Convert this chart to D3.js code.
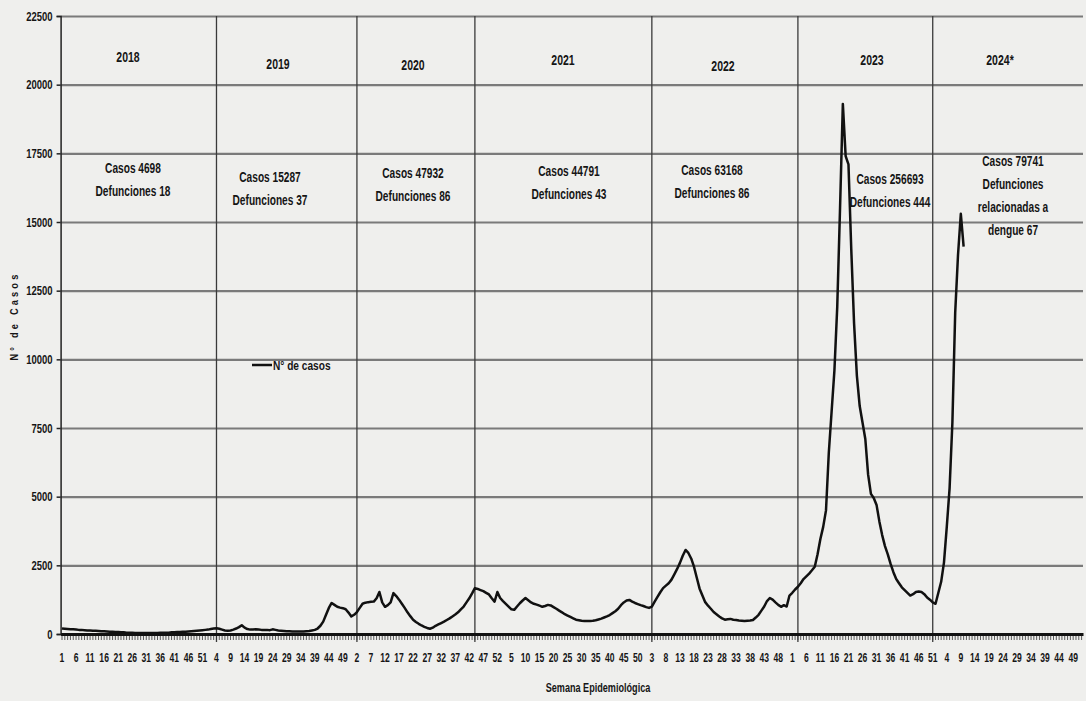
<!DOCTYPE html>
<html>
<head>
<meta charset="utf-8">
<script src="https://cdn.jsdelivr.net/npm/d3@7/dist/d3.min.js"></script>
<style>
  body { margin: 0; background: #efefed; }
  text { font-family: "Liberation Sans", Arial, sans-serif; font-weight: bold; fill: #151515; }
</style>
</head>
<body>
<div id="chart"></div>
<script>
// weekly cases per epidemiological year
const years = ["2018", "2019", "2020", "2021", "2022", "2023", "2024*"];
const weeksInYear = 52;

const cases2018 = [200,190,180,170,170,160,150,150,140,130, 130,120,120,110,100,100,90,80,80,70,
  70,60,60,50,50,50,40,40,40,40, 40,40,40,40,40,50,50,50,50,60,
  60,70,70,80,80,90,100,110,120,130,140,150];
const cases2019 = [160,180,200,210,190,160,130,120,130,160, 200,250,320,230,180,160,160,170,160,150,
  150,150,140,170,150,130,120,110,100,100, 90,90,90,90,90,100,110,130,
  150,200,300,450,700,950,1130,1060,990,960,940,900,780,640];
const cases2020 = [700,800,950,1100,1140,1160,1170,1180,1300,1530, 1150,990,1050,1150,1490,1380,1250,1100,950,790,
  650,520,440,370,310,260,220,190,230,300, 350,400,450,510,570,640,710,790,900,1000,
  1150,1300,1480,1670,1640,1600,1560,1500,1440,1300,1180,1530];
const cases2021 = [1310,1200,1100,1000,900,880,1000,1120,1220,1310, 1230,1150,1100,1070,1030,990,1020,1060,1040,980,
  920,850,790,720,670,620,570,520,500,480, 470,470,470,480,500,530,560,600,640,690,
  760,830,920,1050,1150,1220,1240,1180,1130,1090,1050,1020];
const cases2022 = [980,950,1000,1180,1350,1520,1670,1760,1850,1980, 2170,2370,2590,2850,3060,2950,2750,2450,2050,1650,
  1400,1160,1030,920,800,720,640,570,520,540, 550,520,510,490,480,470,480,490,510,600,
  700,850,1000,1200,1310,1250,1150,1060,990,1050,1000,1400];
const cases2023 = [1500,1620,1720,1850,2000,2100,2200,2320,2450,2900, 3460,3900,4500,6600,8100,9600,11900,15500,19300,17400,
  17100,14000,11300,9400,8300,7700,7100,5800,5100,4950, 4700,4100,3600,3200,2900,2550,2250,2000,1850,1700,
  1600,1500,1400,1450,1530,1550,1530,1450,1330,1250,1150,1100];
const cases2024 = [1500,1900,2600,3900,5300,7700,11700,13800,15300,14100];
const seriesByYear = [cases2018, cases2019, cases2020, cases2021, cases2022, cases2023, cases2024];

// yearly totals shown in the boxes
const totalCases = [4698, 15287, 47932, 44791, 63168, 256693, 79741];
const totalDeaths = [18, 37, 86, 43, 86, 444, 67];

// where the year separators were drawn (year index, week)
const dividers = [[1, 4], [2, 2], [2, 44], [4, 3], [5, 3], [5, 51]];

const yTicks = d3.range(0, 22501, 2500);

const width = 1086, height = 701;
const margin = { top: 16, right: 3, bottom: 67, left: 60.6 };
// the print uses a tall, very narrow bold face
const squeeze = s => `scale(${s},1)`;

// build categories: every week of every year on one axis
const categories = [];
years.forEach((yr, yi) => {
  for (let w = 1; w <= weeksInYear; w++) categories.push({ key: yi + "-" + w, week: w, year: yi });
});
const points = [];
seriesByYear.forEach((vals, yi) => vals.forEach((v, i) => points.push({ key: yi + "-" + (i + 1), value: v })));

const x = d3.scaleBand()
  .domain(categories.map(d => d.key))
  .range([margin.left, width - margin.right])
  .paddingInner(0).paddingOuter(0);
const cx = k => x(k) + x.bandwidth() / 2;

const y = d3.scaleLinear()
  .domain([0, 22500])
  .range([height - margin.bottom, margin.top]);

const svg = d3.select("#chart").append("svg")
  .attr("width", width)
  .attr("height", height);

// horizontal gridlines
svg.append("g")
  .attr("transform", `translate(${margin.left},0)`)
  .call(d3.axisLeft(y).tickValues(yTicks).tickSize(-(width - margin.left - margin.right)).tickFormat(""))
  .call(g => g.select(".domain").remove())
  .call(g => g.selectAll("line").attr("stroke", "#7a7a7a").attr("stroke-width", 2.2));

// y axis
svg.append("g")
  .attr("transform", `translate(${margin.left},0)`)
  .call(d3.axisLeft(y).tickValues(yTicks).tickSize(4).tickPadding(6.5).tickFormat(d3.format("d")))
  .call(g => g.select(".domain").attr("stroke", "#222").attr("stroke-width", 1.5))
  .call(g => g.selectAll("line").attr("stroke", "#222").attr("stroke-width", 1.5))
  .call(g => g.selectAll("text").attr("font-size", 12.5).attr("transform", squeeze(0.76)).style("font-family", null));

// year separators
svg.append("g").selectAll("line")
  .data(dividers)
  .join("line")
  .attr("x1", d => cx(d[0] + "-" + d[1]))
  .attr("x2", d => cx(d[0] + "-" + d[1]))
  .attr("y1", y(22500))
  .attr("y2", y(0) + 8)
  .attr("stroke", "#3a3a3a")
  .attr("stroke-width", 1.3);

// x axis: a tick on every week, label on every fifth
const every5 = categories.filter((d, i) => i % 5 === 0).map(d => d.key);
const weekOf = new Map(categories.map(d => [d.key, d.week]));
svg.append("g")
  .attr("transform", `translate(0,${y(0)})`)
  .call(d3.axisBottom(x).tickSize(6).tickFormat(""))
  .call(g => g.select(".domain").remove())
  .call(g => g.selectAll("line").attr("stroke", "#333").attr("stroke-width", 0.8));
svg.append("g")
  .attr("transform", `translate(0,${y(0)})`)
  .call(d3.axisBottom(x).tickValues(every5).tickSize(0).tickPadding(28).tickFormat(k => weekOf.get(k)))
  .call(g => g.select(".domain").attr("stroke", "#111").attr("stroke-width", 3))
  .call(g => g.selectAll("text").attr("font-size", 13).attr("dy", "0").attr("transform", squeeze(0.66)).style("font-family", null));

// the weekly case line
const line = d3.line()
  .x(d => cx(d.key))
  .y(d => y(d.value));
svg.append("path")
  .datum(points)
  .attr("fill", "none")
  .attr("stroke", "#111")
  .attr("stroke-width", 2.5)
  .attr("stroke-linejoin", "round")
  .attr("d", line);

// annotation layout (pixels)
const yearLabelPos = [[128, 62], [278, 69], [413, 70], [563, 65], [723, 71], [872, 65], [1000, 65]];
const boxPos = [[133, 173], [270, 182], [413, 178], [569, 176], [712, 175], [890, 184], [1013, 166]];

svg.append("g").selectAll("text")
  .data(years)
  .join("text")
  .attr("transform", (d, i) => `translate(${yearLabelPos[i][0]},${yearLabelPos[i][1]}) ${squeeze(0.7)}`)
  .attr("text-anchor", "middle")
  .attr("font-size", 15)
  .text(d => d);

const boxes = svg.append("g").selectAll("text")
  .data(years)
  .join("text")
  .attr("transform", (d, i) => `translate(${boxPos[i][0]},${boxPos[i][1]}) ${squeeze(0.7)}`)
  .attr("text-anchor", "middle")
  .attr("font-size", 14.5);
boxes.each(function (d, i) {
  const lines = i === years.length - 1
    ? ["Casos " + totalCases[i], "Defunciones", "relacionadas a", "dengue " + totalDeaths[i]]
    : ["Casos " + totalCases[i], "Defunciones " + totalDeaths[i]];
  d3.select(this).selectAll("tspan")
    .data(lines)
    .join("tspan")
    .attr("x", 0)
    .attr("dy", (t, j) => j === 0 ? 0 : 23)
    .text(t => t);
});

// legend
svg.append("line")
  .attr("x1", 252).attr("x2", 272)
  .attr("y1", 365).attr("y2", 365)
  .attr("stroke", "#111").attr("stroke-width", 2.5);
svg.append("text")
  .attr("transform", `translate(273,369.5) ${squeeze(0.78)}`)
  .attr("font-size", 13)
  .text("N° de casos");

// axis titles
svg.append("text")
  .attr("transform", `translate(18,316) rotate(-90) ${squeeze(0.8)}`)
  .attr("text-anchor", "middle")
  .attr("font-size", 11.5)
  .attr("letter-spacing", 4)
  .text("N° de Casos");
svg.append("text")
  .attr("transform", `translate(598,692) ${squeeze(0.7)}`)
  .attr("text-anchor", "middle")
  .attr("font-size", 13)
  .text("Semana Epidemiológica");
</script>
</body>
</html>
